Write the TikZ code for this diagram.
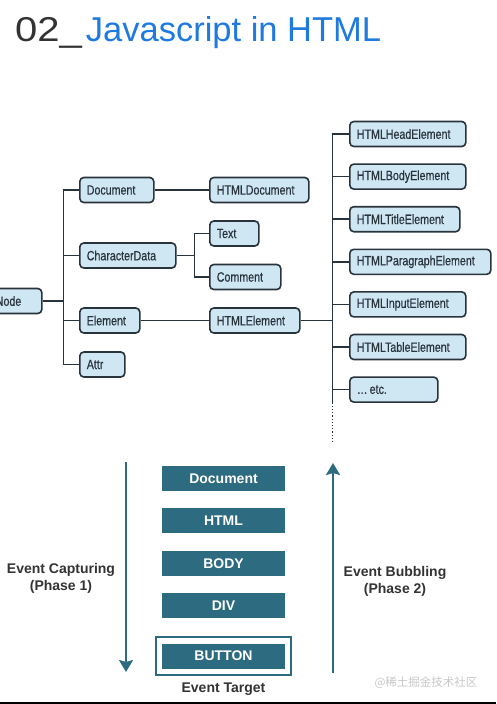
\documentclass[tikz,border=0pt]{standalone}
\usepackage{fontspec}
\usepackage{xcolor}
\usepackage{graphicx}
\usepackage{tikz}
\usetikzlibrary{positioning, arrows.meta, fit}
\setmainfont{Liberation Sans}
\newfontfamily\treefont[FakeStretch=0.79, FakeBold=0.4]{Liberation Sans}
\newfontfamily\cjkfont{Noto Sans CJK SC}
\definecolor{TitleGray}{HTML}{333333}
\definecolor{TitleBlue}{HTML}{1F7AE0}
\definecolor{TreeFill}{HTML}{CFE6F3}
\definecolor{TreeLine}{HTML}{28333C}
\definecolor{FlowTeal}{HTML}{2D6C80}
\definecolor{LabelGray}{HTML}{333333}

\begin{document}
\begin{tikzpicture}[x=1pt, y=-1pt,
            treebox/.style={draw=TreeLine, fill=TreeFill, line width=1.6pt, rounded corners=4pt, anchor=west, minimum height=25pt, text width=#1, align=left, inner xsep=7pt, inner ysep=0pt, text=TreeLine, font=\treefont\fontsize{13.5}{15}\selectfont},
            link/.style={TreeLine, line width=1.5pt},
            flowbox/.style={fill=FlowTeal, text=white, minimum width=123pt, minimum height=25pt, inner sep=0pt, font=\bfseries\fontsize{14}{16}\selectfont},
            flowlabel/.style={text=LabelGray, align=center, font=\bfseries\fontsize{14}{17}\selectfont},
            flowarrow/.style={FlowTeal, line width=2.5pt, -{Stealth[length=12pt, width=14pt, inset=2pt]}}
        ]
            \clip (0,0) rectangle (496,704);
            \node[anchor=base west, inner sep=0pt, font=\fontsize{34.5}{40}\selectfont] (title) at (15,41) {\textcolor{TitleGray}{\scalebox{1.16}[1]{02\_}}\kern4pt\textcolor{TitleBlue}{Javascript in HTML}};

            % tree
            \node[treebox=39pt] (node) at (-12,301) {Node};
            \node[treebox=60pt] (document) at (79,190) {Document};
            \node[treebox=82pt] (chardata) at (79,255.5) {CharacterData};
            \node[treebox=46pt] (element) at (79,320.5) {Element};
            \node[treebox=31pt] (attr) at (79,364.5) {Attr};
            \node[treebox=85pt] (htmldoc) at (209,190) {HTMLDocument};
            \node[treebox=35pt] (text) at (209,233.5) {Text};
            \node[treebox=57pt] (comment) at (209,277) {Comment};
            \node[treebox=76pt] (htmlelem) at (209,320.5) {HTMLElement};

            \node[treebox=102pt] (head) at (349,134) {HTMLHeadElement};
            \node[treebox=102pt, below=16pt of head.south west, anchor=north west] (body) {HTMLBodyElement};
            \node[treebox=96pt, below=16pt of body.south west, anchor=north west] (titleel) {HTMLTitleElement};
            \node[treebox=127pt, below=16pt of titleel.south west, anchor=north west] (para) {HTMLParagraphElement};
            \node[treebox=102pt, below=16pt of para.south west, anchor=north west] (input) {HTMLInputElement};
            \node[treebox=102pt, below=16pt of input.south west, anchor=north west] (table) {HTMLTableElement};
            \node[treebox=74pt, below=16pt of table.south west, anchor=north west] (etc) {\dots\,etc.};

            \draw[link] (node.east) -- ++(21,0) |- (document.west);
            \draw[link] (node.east) -- ++(21,0) |- (chardata.west);
            \draw[link] (node.east) -- ++(21,0) |- (element.west);
            \draw[link] (node.east) -- ++(21,0) |- (attr.west);
            \draw[link] (document) -- (htmldoc);
            \draw[link] (chardata.east) -- ++(18,0) |- (text.west);
            \draw[link] (chardata.east) -- ++(18,0) |- (comment.west);
            \draw[link] (element) -- (htmlelem);

            \path (htmlelem.east) ++(32,0) coordinate (rtrunk);
            \draw[link] (htmlelem.east) -- (rtrunk) |- (head.west);
            \draw[link] (rtrunk) |- (body.west);
            \draw[link] (rtrunk) |- (titleel.west);
            \draw[link] (rtrunk) |- (para.west);
            \draw[link] (rtrunk) |- (input.west);
            \draw[link] (rtrunk) |- (table.west);
            \draw[link] (rtrunk) |- (etc.west);
            \draw[link] (rtrunk |- etc.west) -- ++(0,13) coordinate (dotstart);
            \draw[link, line width=1.2pt, dotted] (dotstart) -- ++(0,39);

            % event flow
            \node[flowbox] (fdoc) at (223.5,478.5) {Document};
            \node[flowbox, below=17pt of fdoc] (fhtml) {HTML};
            \node[flowbox, below=17pt of fhtml] (fbody) {BODY};
            \node[flowbox, below=17pt of fbody] (fdiv) {DIV};
            \node[flowbox, below=25pt of fdiv] (fbutton) {BUTTON};
            \node[draw=FlowTeal, line width=2pt, inner sep=6pt, fit=(fbutton)] (frame) {};
            \node[flowlabel, below=4pt of frame] (target) {Event Target};

            \coordinate (captop) at (126,462);
            \coordinate (capbot) at (126,672);
            \coordinate (bubbot) at (333,673);
            \coordinate (bubtop) at (333,463);
            \draw[flowarrow] (captop) -- (capbot);
            \draw[flowarrow] (bubbot) -- (bubtop);
            \node[flowlabel] (capturing) at (61,578.5) {Event Capturing\\(Phase 1)};
            \node[flowlabel] (bubbling) at (395,581.5) {Event Bubbling\\(Phase 2)};

            \node[anchor=east, text=black!22, font=\cjkfont\fontsize{11.5}{13}\selectfont] (mark) at (481,683) {@稀土掘金技术社区};
            \fill[black] (0,702) rectangle (496,704);

        \end{tikzpicture}
\end{document}
